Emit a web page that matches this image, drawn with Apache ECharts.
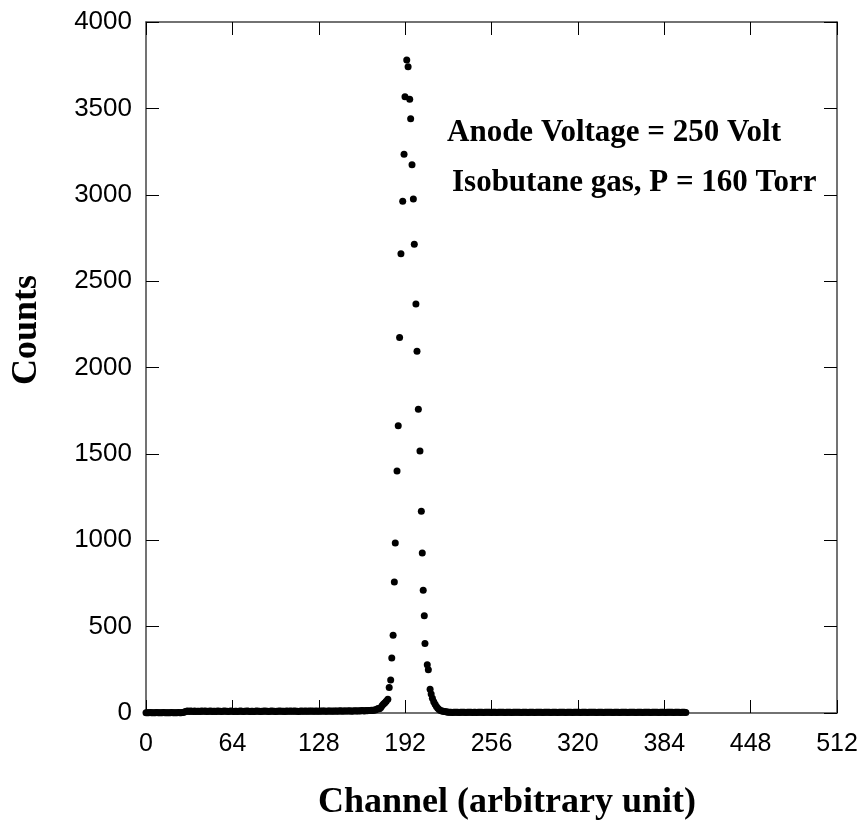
<!DOCTYPE html>
<html>
<head>
<meta charset="utf-8">
<script src="https://cdn.jsdelivr.net/npm/echarts@6/dist/echarts.min.js"></script>
<style>html,body{margin:0;padding:0;background:#fff;}#chart{width:867px;height:827px;}</style>
</head>
<body>
<div id="chart"></div>
<script>
// Tick labels
const xTicks = [0, 64, 128, 192, 256, 320, 384, 448, 512];
const yTicks = [0, 500, 1000, 1500, 2000, 2500, 3000, 3500, 4000];

// Baseline before the peak: channels 0..178 (one value per channel, starting at leftStart)
const leftStart = 0;
const leftCounts = [
  2,1,2,3,1,2,2,1,3,2,1,2,2,3,1,2,2,1,2,3,2,1,2,2,3,2,2,3,5,7,
  10,11,9,12,10,9,11,8,10,
  10,9,11,10,10,12,9,10,10,11,
  8,10,10,9,11,10,10,9,10,11,
  10,10,9,10,11,10,8,10,10,9,
  10,11,10,9,10,10,11,10,9,10,
  10,9,10,11,10,10,9,10,10,11,
  10,10,9,10,11,10,10,9,10,10,
  11,10,10,10,9,11,10,10,12,10,
  10,11,10,10,9,10,11,10,10,11,
  10,10,11,10,12,10,10,11,10,10,
  11,10,12,11,10,10,11,12,10,11,
  10,12,11,10,11,13,10,11,12,11,
  12,11,13,10,12,11,13,12,11,13,
  12,14,13,12,14,13,15,14,16,15,
  17,18,22,26,
  24,32,44,52,60,68
];

// Peak region (channel, counts)
const peakChannels = [179.2,180.2,181.3,182.1,183.1,184.0,184.7,186.0,186.9,187.9,188.9,190.2,191.2,191.9,193.2,
  194.2,195.4,196.1,197.1,198.1,198.8,200.0,200.8,201.8,203.0,204.0,204.7,205.4,206.2,206.7,
  208.4,209.2,210.5,211.3,212.2,213.2,214.2,215.2,216.2,217.2,218.2,219.2,220.2,221.2,222.2,223.2];
const peakCounts = [79,148,191,318,450,758,984,1401,1663,2173,2659,2962,3234,3568,3780,
  3741,3553,3440,3174,2976,2713,2368,2094,1758,1517,1168,926,710,563,403,
  280,250,137,110,85,65,50,38,28,20,15,12,10,8,7,6];

// Baseline after the peak: channels 224..400
const rightStart = 224;
const rightCounts = [
  4,5,4,3,4,5,4,4,3,4,
  5,4,4,3,4,4,5,4,3,4,
  4,3,4,5,4,4,3,4,4,5,
  4,4,3,4,5,4,3,4,4,4,
  5,4,3,4,4,5,4,3,4,4,
  4,5,4,4,3,4,4,5,4,3,
  4,4,5,4,3,4,4,4,5,4,
  3,4,4,5,4,4,3,4,5,4,
  4,3,4,4,5,4,4,3,4,4,
  5,4,3,4,4,4,5,4,3,4,
  4,5,4,3,4,4,4,5,4,4,
  3,4,4,5,4,3,4,4,4,5,
  4,4,3,4,5,4,4,3,4,4,
  4,5,4,3,4,4,5,4,4,3,
  4,4,5,4,3,4,4,4,5,4,
  3,4,4,5,4,4,3,4,4,5,
  4,3,4,4,4,5,4,3,4,4,
  5,4,3,4,4,4,3
];

const points = [];
leftCounts.forEach((c, i) => points.push([leftStart + i, c]));
peakChannels.forEach((ch, i) => points.push([ch, peakCounts[i]]));
rightCounts.forEach((c, i) => points.push([rightStart + i, c]));

const chart = echarts.init(document.getElementById('chart'), null, {renderer: 'canvas'});
const axisLineStyle = {color: '#444', width: 1.5};
const tickStyle = {color: '#000', width: 1};
const sans = '"Liberation Sans", Arial, sans-serif';
const serifBold = 'bold 36px "Liberation Serif", "Times New Roman", serif';
const noteFont = 'bold 31px "Liberation Serif", "Times New Roman", serif';

chart.setOption({
  animation: false,
  backgroundColor: '#fff',
  grid: {left: 146, right: 30, top: 22, bottom: 114, containLabel: false},
  xAxis: [{
    type: 'value', position: 'bottom', min: xTicks[0], max: xTicks[xTicks.length - 1], interval: 64,
    axisLine: {show: true, onZero: false, lineStyle: axisLineStyle},
    axisTick: {show: true, inside: true, length: 13, lineStyle: tickStyle},
    axisLabel: {show: true, fontFamily: sans, fontSize: 25, color: '#000', margin: 19,
      showMinLabel: true, showMaxLabel: true, formatter: v => String(v)},
    splitLine: {show: false}
  }, {
    type: 'value', position: 'top', min: xTicks[0], max: xTicks[xTicks.length - 1], interval: 64,
    axisLine: {show: true, onZero: false, lineStyle: axisLineStyle},
    axisTick: {show: true, inside: true, length: 13, lineStyle: tickStyle},
    axisLabel: {show: false}, splitLine: {show: false}
  }],
  yAxis: [{
    type: 'value', position: 'left', min: yTicks[0], max: yTicks[yTicks.length - 1], interval: 500,
    axisLine: {show: true, onZero: false, lineStyle: axisLineStyle},
    axisTick: {show: true, inside: true, length: 13, lineStyle: tickStyle},
    axisLabel: {show: true, fontFamily: sans, fontSize: 26, color: '#000', margin: 14,
      showMinLabel: true, showMaxLabel: true, formatter: v => String(v)},
    splitLine: {show: false}
  }, {
    type: 'value', position: 'right', min: yTicks[0], max: yTicks[yTicks.length - 1], interval: 500,
    axisLine: {show: true, onZero: false, lineStyle: axisLineStyle},
    axisTick: {show: true, inside: true, length: 13, lineStyle: tickStyle},
    axisLabel: {show: false}, splitLine: {show: false}
  }],
  graphic: [{
    type: 'text', x: 507, y: 803,
    style: {text: 'Channel (arbitrary unit)', font: serifBold, fill: '#000', align: 'center', verticalAlign: 'middle'}
  }, {
    type: 'text', x: 27, y: 330, rotation: Math.PI / 2,
    style: {text: 'Counts', font: serifBold, fill: '#000', align: 'center', verticalAlign: 'middle'}
  }, {
    type: 'text', x: 447, y: 133,
    style: {text: 'Anode Voltage = 250 Volt', font: noteFont, fill: '#000', align: 'left', verticalAlign: 'middle'}
  }, {
    type: 'text', x: 452, y: 183,
    style: {text: 'Isobutane gas, P = 160 Torr', font: noteFont, fill: '#000', align: 'left', verticalAlign: 'middle'}
  }],
  series: [{
    type: 'scatter', xAxisIndex: 0, yAxisIndex: 0,
    data: points, symbol: 'circle', symbolSize: 7,
    itemStyle: {color: '#000', opacity: 1}
  }]
});
</script>
</body>
</html>
